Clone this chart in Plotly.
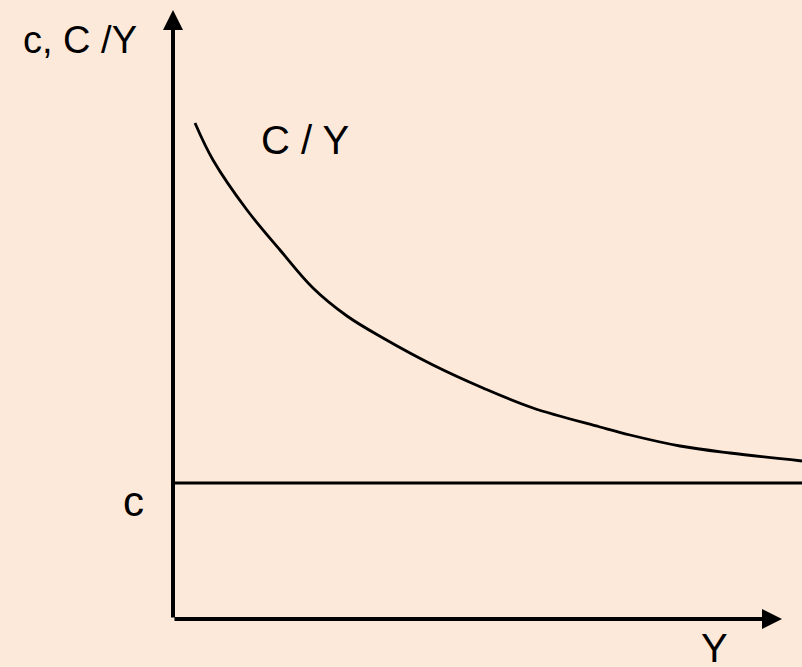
import plotly.graph_objects as go

# Data (abstract units)
income_Y = [2.2, 4.0, 7.4, 10.7, 14.0, 17.4, 21.0, 26.0, 31.0, 36.0, 42.7, 45.7, 50.7, 55.7, 62.9]
avg_propensity_CY = [49.6, 45.9, 40.9, 36.9, 33.1, 30.3, 28.1, 25.4, 23.1, 21.1, 19.2, 18.4, 17.3, 16.6, 15.8]
marginal_c_x = [0.0, 62.9]
marginal_c_y = [13.6, 13.6]

axis_len_x = 60.9
axis_len_y = 60.9

BG = "#FDE9D9"
FONT = "Liberation Sans, Arial, sans-serif"

fig = go.Figure()

fig.add_trace(go.Scatter(
    x=income_Y, y=avg_propensity_CY, mode="lines",
    line=dict(color="black", width=2.8, shape="spline", smoothing=1.0),
    hoverinfo="skip", showlegend=False,
))
fig.add_trace(go.Scatter(
    x=marginal_c_x, y=marginal_c_y, mode="lines",
    line=dict(color="black", width=3),
    hoverinfo="skip", showlegend=False,
))

# Axes with arrowheads
for (tx, ty) in [(axis_len_x, 0), (0, axis_len_y)]:
    fig.add_annotation(
        x=tx, y=ty, ax=0, ay=0, xref="x", yref="y", axref="x", ayref="y",
        text="", showarrow=True, arrowhead=2, arrowsize=1, arrowwidth=4,
        arrowcolor="black", standoff=0, startstandoff=0,
    )

labels = [
    ("c, C /Y", -9.3, 57.9, 38),
    ("C / Y", 13.2, 47.9, 40),
    ("c", -4.0, 11.8, 42),
    ("Y", 54.1, -2.9, 40),
]
for txt, x, y, size in labels:
    fig.add_annotation(
        x=x, y=y, xref="x", yref="y", text=txt, showarrow=False,
        font=dict(family=FONT, size=size, color="black"),
        xanchor="center", yanchor="middle",
    )

fig.update_layout(
    width=802, height=667,
    margin=dict(l=0, r=0, t=0, b=0),
    paper_bgcolor=BG, plot_bgcolor=BG,
    xaxis=dict(range=[-17.3, 62.9], visible=False, fixedrange=True),
    yaxis=dict(range=[-4.8, 61.9], visible=False, fixedrange=True),
    showlegend=False,
)

fig.write_html(
    "out.html",
    config={"displayModeBar": False},
    post_script="document.body.style.margin='0';document.body.style.padding='0';document.body.style.overflow='hidden';",
)
